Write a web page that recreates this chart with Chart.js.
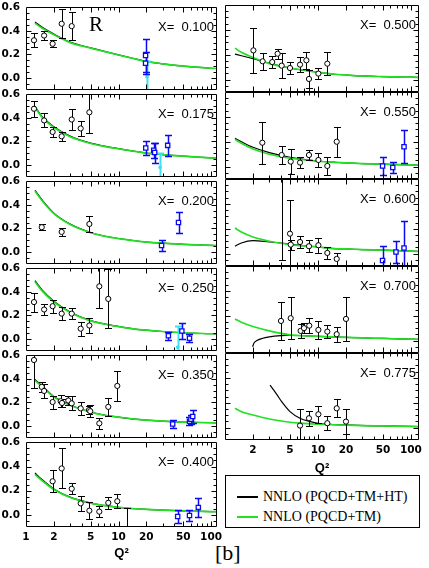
<!DOCTYPE html>
<html>
<head>
<meta charset="utf-8">
<script src="https://cdn.jsdelivr.net/npm/chart.js@4.4.0/dist/chart.umd.min.js"></script>
<style>
    body { margin: 0; background: #fff; width: 429px; height: 568px; overflow: hidden; position: relative; }
    canvas { position: absolute; left: 0; }
    #legend { position: absolute; left: 225px; top: 475px; width: 195px; height: 53px; box-sizing: border-box; border: 1px solid #000; background: #fff; }
    #legend .ln { position: absolute; left: 11px; width: 21px; }
    #legend .tx { position: absolute; left: 37px; font: 14px "Liberation Serif", serif; line-height: 16px; white-space: pre; color: #000; }
    #tag { position: absolute; left: 215px; top: 542px; font: 22px "Liberation Serif", serif; line-height: 22px; color: #000; }
</style>
</head>
<body>
<div id="legend">
    <div class="ln" style="top:20px;height:1.5px;background:#000"></div>
    <div class="tx" style="top:13px">NNLO (PQCD+TM+HT)</div>
    <div class="ln" style="top:40px;height:2px;background:#22e022"></div>
    <div class="tx" style="top:33px">NNLO (PQCD+TM)</div>
</div>
<div id="tag">[b]</div>
<script>
// Q^2 grids the theory curves were read at
const Q2_LEFT = [1.25, 1.5, 2, 3, 5, 7, 10, 15, 20, 30, 50, 100, 120];
const Q2_RIGHT = [1.28, 1.5, 2, 3, 5, 7, 10, 15, 20, 30, 50, 100, 125];
const Q2_HT700 = [1.98, 2.05, 2.2, 2.5, 3, 4, 5, 7, 10, 20, 50, 125];
const Q2_HT775 = [3.05, 3.6, 4.07, 5, 6.4, 8.3, 10, 20, 50, 125];

// NNLO (PQCD+TM+HT) = black, NNLO (PQCD+TM) = green
const ht100 = [0.476, 0.43, 0.373, 0.305, 0.255, 0.226, 0.196, 0.163, 0.141, 0.12, 0.10, 0.082, 0.079];
const tm100 = [0.466, 0.422, 0.367, 0.30, 0.253, 0.225, 0.195, 0.162, 0.14, 0.12, 0.10, 0.082, 0.079];
const ht175 = [0.497, 0.41, 0.325, 0.245, 0.185, 0.16, 0.138, 0.116, 0.10, 0.088, 0.074, 0.06, 0.058];
const tm175 = [0.487, 0.402, 0.318, 0.24, 0.182, 0.158, 0.137, 0.115, 0.10, 0.088, 0.074, 0.06, 0.058];
const ht200 = [0.523, 0.44, 0.33, 0.237, 0.165, 0.135, 0.114, 0.095, 0.084, 0.074, 0.065, 0.055, 0.053];
const tm200 = [0.515, 0.433, 0.325, 0.233, 0.163, 0.134, 0.113, 0.095, 0.084, 0.074, 0.065, 0.055, 0.053];
const ht250 = [0.496, 0.414, 0.32, 0.229, 0.155, 0.128, 0.106, 0.084, 0.074, 0.063, 0.052, 0.044, 0.042];
const tm250 = [0.486, 0.406, 0.314, 0.225, 0.153, 0.127, 0.105, 0.084, 0.074, 0.063, 0.052, 0.044, 0.042];
const ht350 = [0.395, 0.34, 0.25, 0.178, 0.118, 0.092, 0.075, 0.058, 0.049, 0.04, 0.033, 0.027, 0.026];
const tm350 = [0.385, 0.332, 0.245, 0.175, 0.117, 0.091, 0.075, 0.058, 0.049, 0.04, 0.033, 0.027, 0.026];
const ht400 = [0.346, 0.29, 0.215, 0.147, 0.098, 0.078, 0.062, 0.051, 0.046, 0.039, 0.033, 0.027, 0.026];
const tm400 = [0.335, 0.282, 0.21, 0.144, 0.097, 0.077, 0.062, 0.051, 0.046, 0.039, 0.033, 0.027, 0.026];
const ht500 = [0.205, 0.192, 0.168, 0.131, 0.093, 0.075, 0.059, 0.043, 0.037, 0.029, 0.024, 0.019, 0.016];
const tm500 = [0.253, 0.219, 0.178, 0.128, 0.093, 0.075, 0.059, 0.043, 0.037, 0.029, 0.024, 0.019, 0.016];
const ht550 = [0.227, 0.2, 0.155, 0.112, 0.075, 0.059, 0.045, 0.035, 0.029, 0.024, 0.019, 0.013, 0.012];
const tm550 = [0.219, 0.187, 0.141, 0.099, 0.067, 0.055, 0.043, 0.034, 0.029, 0.024, 0.019, 0.013, 0.012];
const ht600 = [0.059, 0.085, 0.104, 0.093, 0.077, 0.064, 0.053, 0.04, 0.037, 0.032, 0.027, 0.019, 0.017];
const tm600 = [0.205, 0.173, 0.133, 0.099, 0.072, 0.062, 0.053, 0.04, 0.037, 0.032, 0.027, 0.019, 0.017];
const ht700 = [-0.05, -0.02, 0.0, 0.017, 0.03, 0.04, 0.043, 0.04, 0.034, 0.025, 0.017, 0.01];
const tm700 = [0.174, 0.147, 0.113, 0.078, 0.046, 0.039, 0.034, 0.029, 0.025, 0.021, 0.017, 0.011, 0.01];
const ht775 = [0.341, 0.267, 0.208, 0.128, 0.075, 0.048, 0.035, 0.021, 0.013, 0.008];
const tm775 = [0.155, 0.128, 0.101, 0.069, 0.043, 0.034, 0.027, 0.022, 0.019, 0.016, 0.013, 0.009, 0.008];

// measurements: [Q2, R, error]
const dat100 = [[1.22, 0.32, 0.06], [1.57, 0.36, 0.04], [1.94, 0.29, 0.03], [2.43, 0.46, 0.125], [3.12, 0.44, 0.12]];
const blue100 = [[19.6, 0.19, 0.14], [19.6, 0.125, 0.095]];
const cyan100 = [[20.3, 0.01, 0.13]];
const dat175 = [[1.22, 0.477, 0.07], [1.57, 0.378, 0.06], [1.94, 0.28, 0.04], [2.43, 0.243, 0.04], [3.12, 0.386, 0.09], [3.9, 0.31, 0.065], [4.84, 0.447, 0.18]];
const blue175 = [[19.7, 0.143, 0.06], [24, 0.125, 0.065], [24.6, 0.105, 0.085], [34, 0.166, 0.09]];
const cyan175 = [[28.1, -0.02, 0.12]];
const dat200 = [[1.48, 0.21, 0.025], [2.43, 0.17, 0.035], [4.84, 0.237, 0.07]];
const blue200 = [[29.2, 0.055, 0.045], [44.5, 0.25, 0.09]];
const dat250 = [[1.22, 0.313, 0.08], [1.57, 0.25, 0.045], [1.94, 0.278, 0.055], [2.43, 0.215, 0.055], [3.12, 0.215, 0.045], [3.9, 0.087, 0.06], [4.84, 0.114, 0.065], [6.2, 0.447, 0.185], [7.75, 0.34, 0.25]];
const blue250 = [[34.6, 0.027, 0.035], [48.4, 0.068, 0.065], [58.5, 0.005, 0.035]];
const cyan250 = [[43.6, -0.07, 0.18]];
const dat350 = [[1.22, 0.56, 0.24], [1.48, 0.332, 0.04], [1.57, 0.297, 0.06], [1.94, 0.203, 0.055], [2.37, 0.21, 0.05], [2.45, 0.195, 0.03], [2.87, 0.216, 0.04], [3.12, 0.192, 0.06], [3.9, 0.149, 0.055], [4.8, 0.135, 0.035], [4.95, 0.125, 0.05], [6.2, 0.022, 0.045], [7.75, 0.162, 0.077], [9.7, 0.34, 0.125]];
const blue350 = [[38.5, 0.016, 0.037], [58.5, 0.04, 0.035], [60.5, 0.057, 0.04], [63.4, 0.08, 0.055]];
const dat400 = [[1.94, 0.278, 0.09], [2.43, 0.384, 0.165], [3.12, 0.216, 0.045], [3.9, 0.095, 0.06], [4.84, 0.035, 0.07], [6.2, 0.027, 0.045], [7.75, 0.10, 0.05], [9.7, 0.113, 0.06], [12.3, -0.12, 0.175]];
const blue400 = [[43.6, -0.014, 0.055], [58.5, -0.005, 0.045], [72.9, 0.062, 0.08]];
const dat500 = [[2.02, 0.235, 0.18], [2.54, 0.147, 0.07], [3.22, 0.141, 0.05], [3.68, 0.208, 0.04], [4.07, 0.112, 0.1], [5.0, 0.093, 0.045], [6.41, 0.12, 0.06], [7.5, 0.155, 0.07], [8.0, 0.005, 0.075], [10.1, 0.048, 0.045], [12.6, 0.128, 0.09]];
const dat550 = [[2.52, 0.192, 0.17], [4.07, 0.093, 0.07], [5.09, 0.04, 0.1], [6.41, 0.032, 0.045], [8.0, 0.093, 0.04], [10.1, 0.053, 0.06], [12.6, 0.005, 0.07], [15.9, 0.2, 0.12]];
const blue550 = [[49.5, 0.005, 0.07], [63.7, -0.008, 0.045], [84.2, 0.16, 0.135]];
const dat600 = [[4.07, 0.65, 0.7], [5.0, 0.16, 0.27], [5.09, 0.072, 0.04], [6.41, 0.093, 0.05], [8.0, 0.059, 0.05], [10.1, 0.067, 0.06], [12.6, 0.005, 0.045], [15.9, -0.043, 0.045]];
const blue600 = [[49.5, -0.056, 0.115], [69, 0.013, 0.09], [84.2, 0.045, 0.22]];
const dat700 = [[4.0, 0.158, 0.155], [5.09, 0.18, 0.17], [6.5, 0.078, 0.055], [7.07, 0.1, 0.04], [8.06, 0.12, 0.06], [10.1, 0.086, 0.07], [12.6, 0.072, 0.05], [15.9, 0.051, 0.06], [20, 0.174, 0.175]];
const dat775 = [[6.41, 0.016, 0.13], [8.0, 0.075, 0.06], [10.1, 0.107, 0.07], [12.6, 0.035, 0.055], [15.9, 0.155, 0.072], [20, 0.048, 0.1]];

// axis ticks
const xTicksLeft = [1, 2, 5, 10, 20, 50, 100];
const xTicksRight = [2, 5, 10, 20, 50, 100];
const xMinor = [3, 4, 6, 7, 8, 9, 30, 40, 60, 70, 80, 90];
const yTicks = [0, 0.2, 0.4, 0.6];
const yMinor = [-0.05, 0.05, 0.1, 0.15, 0.25, 0.3, 0.35, 0.45, 0.5, 0.55];

const GREEN = '#22e022';
const BLUE = '#0a0af0';
const CYAN = '#3ee0f2';
const TICK_FONT = { family: 'DejaVu Sans', weight: 'bold', size: 10.5 };

const panels = [
    { x: '0.100', col: 0, row: 0, htQ: Q2_LEFT, ht: ht100, tmQ: Q2_LEFT, tm: tm100, pts: dat100, blue: blue100, cyan: cyan100, r: true },
    { x: '0.175', col: 0, row: 1, htQ: Q2_LEFT, ht: ht175, tmQ: Q2_LEFT, tm: tm175, pts: dat175, blue: blue175, cyan: cyan175 },
    { x: '0.200', col: 0, row: 2, htQ: Q2_LEFT, ht: ht200, tmQ: Q2_LEFT, tm: tm200, pts: dat200, blue: blue200, cyan: [] },
    { x: '0.250', col: 0, row: 3, htQ: Q2_LEFT, ht: ht250, tmQ: Q2_LEFT, tm: tm250, pts: dat250, blue: blue250, cyan: cyan250 },
    { x: '0.350', col: 0, row: 4, htQ: Q2_LEFT, ht: ht350, tmQ: Q2_LEFT, tm: tm350, pts: dat350, blue: blue350, cyan: [] },
    { x: '0.400', col: 0, row: 5, htQ: Q2_LEFT, ht: ht400, tmQ: Q2_LEFT, tm: tm400, pts: dat400, blue: blue400, cyan: [], bottom: true },
    { x: '0.500', col: 1, row: 0, htQ: Q2_RIGHT, ht: ht500, tmQ: Q2_RIGHT, tm: tm500, pts: dat500, blue: [], cyan: [] },
    { x: '0.550', col: 1, row: 1, htQ: Q2_RIGHT, ht: ht550, tmQ: Q2_RIGHT, tm: tm550, pts: dat550, blue: blue550, cyan: [] },
    { x: '0.600', col: 1, row: 2, htQ: Q2_RIGHT, ht: ht600, tmQ: Q2_RIGHT, tm: tm600, pts: dat600, blue: blue600, cyan: [] },
    { x: '0.700', col: 1, row: 3, htQ: Q2_HT700, ht: ht700, tmQ: Q2_RIGHT, tm: tm700, pts: dat700, blue: [], cyan: [] },
    { x: '0.775', col: 1, row: 4, htQ: Q2_HT775, ht: ht775, tmQ: Q2_RIGHT, tm: tm775, pts: dat775, blue: [], cyan: [], bottom: true }
];

function toPts(q, v) {
    return v.map((y, i) => ({ x: q[i], y }));
}
function toErr(arr) {
    return arr.map(([x, y, e]) => ({ x, y, e }));
}

// vertical error bars with caps, drawn just before their markers
const errorBars = {
    id: 'errorBars',
    beforeDatasetDraw(chart, args) {
        const ds = chart.data.datasets[args.index];
        if (!ds.errColor) return;
        const { ctx, chartArea: a, scales: { x, y } } = chart;
        ctx.save();
        ctx.beginPath();
        ctx.rect(a.left, a.top, a.width, a.height);
        ctx.clip();
        ctx.strokeStyle = ds.errColor;
        ctx.lineWidth = ds.errWidth;
        ds.data.forEach(p => {
            const px = Math.round(x.getPixelForValue(p.x)) + 0.5;
            const y1 = Math.round(y.getPixelForValue(p.y + p.e)) + 0.5;
            const y2 = Math.round(y.getPixelForValue(p.y - p.e)) + 0.5;
            ctx.beginPath();
            ctx.moveTo(px, y1); ctx.lineTo(px, y2);
            ctx.moveTo(px - 3.5, y1); ctx.lineTo(px + 3.5, y1);
            ctx.moveTo(px - 3.5, y2); ctx.lineTo(px + 3.5, y2);
            ctx.stroke();
        });
        ctx.restore();
    }
};

// box around the plot with inward tick marks
const frame = {
    id: 'frame',
    afterDraw(chart) {
        const { ctx, chartArea: a, scales: { x, y } } = chart;
        const L = Math.round(a.left) + 0.5, R = Math.round(a.right) - 0.5;
        const T = Math.round(a.top) + 0.5, B = Math.round(a.bottom) - 0.5;
        ctx.save();
        ctx.strokeStyle = '#000';
        ctx.lineWidth = 1;
        ctx.beginPath();
        ctx.rect(L, T, R - L, B - T);
        const xt = (v, len) => {
            const px = Math.round(x.getPixelForValue(v)) + 0.5;
            if (px <= L || px >= R) return;
            ctx.moveTo(px, T); ctx.lineTo(px, T + len);
            ctx.moveTo(px, B); ctx.lineTo(px, B - len);
        };
        const yt = (v, len) => {
            const py = Math.round(y.getPixelForValue(v)) + 0.5;
            ctx.moveTo(L, py); ctx.lineTo(L + len, py);
            ctx.moveTo(R, py); ctx.lineTo(R - len, py);
        };
        xTicksLeft.forEach(v => xt(v, 5));
        xMinor.forEach(v => xt(v, 3));
        [0, 0.2, 0.4].forEach(v => yt(v, 5));
        yMinor.forEach(v => yt(v, 3));
        ctx.stroke();
        ctx.restore();
    }
};

const panelText = {
    id: 'panelText',
    afterDraw(chart, args, opts) {
        const { ctx, chartArea: a } = chart;
        ctx.save();
        ctx.fillStyle = '#000';
        ctx.textBaseline = 'alphabetic';
        ctx.font = '13px "Liberation Sans"';
        ctx.textAlign = 'right';
        ctx.fillText('X=  ' + opts.x, a.right - 3, a.top + 24);
        if (opts.r) {
            ctx.font = '21px "Liberation Serif"';
            ctx.textAlign = 'left';
            ctx.fillText('R', 89, a.top + 24);
        }
        ctx.restore();
    }
};

function makePanel(p) {
    const left = p.col === 0;
    const top = 5 + 87 * p.row;
    const cTop = top - 10;
    const axisH = p.bottom ? (left ? 41 : 38) : 0;
    const h = p.bottom ? 97 + axisH : 107;

    const canvas = document.createElement('canvas');
    canvas.width = 429;
    canvas.height = h;
    canvas.style.top = cTop + 'px';
    canvas.style.width = '429px';
    canvas.style.height = h + 'px';
    document.body.appendChild(canvas);

    const datasets = [
        {
            data: toPts(p.htQ, p.ht), showLine: true, pointRadius: 0,
            borderColor: '#000', borderWidth: 1.2, cubicInterpolationMode: 'monotone', order: 5
        },
        {
            data: toPts(p.tmQ, p.tm), showLine: true, pointRadius: 0,
            borderColor: GREEN, borderWidth: 1.7, cubicInterpolationMode: 'monotone', order: 4
        },
        {
            data: toErr(p.cyan), pointStyle: 'rect', pointRadius: 1.6,
            backgroundColor: CYAN, borderColor: CYAN, pointBorderWidth: 1,
            errColor: CYAN, errWidth: 2, order: 3
        },
        {
            data: toErr(p.blue), pointStyle: 'rect', pointRadius: 3,
            backgroundColor: '#fff', borderColor: BLUE, pointBorderWidth: 1.3,
            errColor: BLUE, errWidth: 1.5, order: 2
        },
        {
            data: toErr(p.pts), pointStyle: 'circle', pointRadius: 2.6,
            backgroundColor: '#fff', borderColor: '#000', pointBorderWidth: 1,
            errColor: '#000', errWidth: 1, order: 1
        }
    ];
    datasets.forEach(d => { d.clip = 0; });

    new Chart(canvas, {
        type: 'scatter',
        data: { datasets },
        plugins: [errorBars, frame, panelText],
        options: {
            responsive: false,
            animation: false,
            events: [],
            layout: {
                padding: left
                    ? { left: 0, right: 212, top: 10, bottom: p.bottom ? 0 : 10 }
                    : { left: 225, right: 10, top: 10, bottom: p.bottom ? 0 : 10 }
            },
            plugins: {
                legend: { display: false },
                tooltip: { enabled: false },
                panelText: { x: p.x, r: !!p.r }
            },
            scales: {
                x: {
                    type: 'logarithmic',
                    min: 1,
                    max: left ? 116 : 122,
                    display: !!p.bottom,
                    afterFit: s => { s.height = axisH; },
                    afterBuildTicks: s => {
                        s.ticks = (left ? xTicksLeft : xTicksRight).map(v => ({ value: v }));
                    },
                    grid: { display: false, drawTicks: false },
                    border: { display: false },
                    ticks: {
                        autoSkip: false, maxRotation: 0, padding: 4, color: '#000', font: TICK_FONT,
                        callback: v => String(v)
                    },
                    title: {
                        display: true, text: 'Q²', color: '#000',
                        font: { family: 'Liberation Sans', weight: 'bold', size: 13 },
                        padding: { top: 0, bottom: left ? 7 : 2 }
                    }
                },
                y: {
                    min: -0.1,
                    max: 0.6,
                    display: left,
                    afterFit: s => { s.width = left ? 26 : 0; },
                    afterBuildTicks: s => { s.ticks = yTicks.map(v => ({ value: v })); },
                    grid: { display: false, drawTicks: false },
                    border: { display: false },
                    ticks: { padding: 6, color: '#000', font: TICK_FONT, callback: v => v.toFixed(1) }
                }
            }
        }
    });
}

panels.forEach(makePanel);
</script>
</body>
</html>
